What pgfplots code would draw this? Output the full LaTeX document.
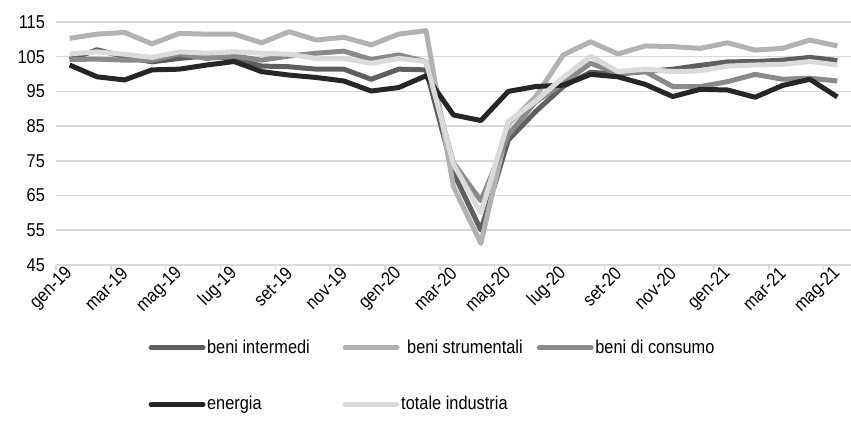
\documentclass[border=0pt]{standalone}
\usepackage{fontspec}
\setmainfont{Liberation Sans}[FakeStretch=0.88]
\usepackage{pgfplots}
\pgfplotsset{compat=1.18}
\definecolor{cint}{HTML}{5F5F5F}
\definecolor{cstr}{HTML}{B2B2B2}
\definecolor{ccon}{HTML}{8A8A8A}
\definecolor{cene}{HTML}{262626}
\definecolor{ctot}{HTML}{DADADA}
\definecolor{gridgrey}{HTML}{D9D9D9}
\pgfplotstableread{
i int str con ene tot
0 104.2 110.3 104.2 102.6 105.8
1 107.0 111.5 104.3 99.2 106.4
2 105.0 112.0 104.0 98.3 105.7
3 103.5 108.7 104.0 101.2 104.8
4 104.5 111.7 105.8 101.4 106.4
5 105.2 111.5 104.5 102.6 106.0
6 104.5 111.5 105.2 103.6 106.4
7 102.3 109.0 104.0 100.7 106.0
8 102.1 112.2 105.2 99.7 105.7
9 101.4 109.8 106.0 99.0 104.5
10 101.4 110.6 106.6 98.0 104.5
11 98.5 108.4 104.2 95.1 103.1
12 101.4 111.5 105.5 96.1 104.5
13 101.2 112.5 103.6 99.5 103.6
14 71.5 67.5 74.3 88.2 74.0
15 55.0 51.2 63.5 86.6 60.0
16 81.0 85.5 82.5 95.0 86.3
17 89.2 93.5 92.0 96.4 92.2
18 96.4 105.5 97.3 96.8 99.0
19 100.5 109.3 103.1 99.9 105.1
20 100.0 105.8 100.2 99.2 100.7
21 100.7 108.1 100.7 97.0 101.4
22 101.4 107.9 96.4 93.5 100.7
23 102.5 107.4 96.4 95.6 100.9
24 103.5 109.0 97.8 95.4 102.3
25 103.6 106.9 99.9 93.3 102.6
26 104.0 107.4 98.5 96.7 102.8
27 104.8 109.8 98.8 98.5 103.6
28 103.9 108.1 98.0 93.4 102.6
}\data
\begin{document}
\begin{tikzpicture}
\useasboundingbox (-28pt,-79.5pt) rectangle (397.75pt,132.5pt);
\begin{axis}[
  at={(0,0)}, anchor=south west,
  scale only axis, width=397.75pt, height=121.5pt,
  xmin=-0.5, xmax=28.5, ymin=45, ymax=115,
  ytick={45,55,...,115},
  xtick={0,2,...,28},
  xticklabels={gen-19,mar-19,mag-19,lug-19,set-19,nov-19,gen-20,mar-20,mag-20,lug-20,set-20,nov-20,gen-21,mar-21,mag-21},
  minor xtick={-0.5,1.5,...,27.5},
  major tick length=0pt, minor tick length=2.5pt,
  tick align=outside, xtick pos=bottom, ytick pos=left,
  tick style={draw=gridgrey, line width=0.75pt},
  axis line style={draw=none},
  ymajorgrids, major grid style={draw=gridgrey, line width=0.75pt},
  /pgf/number format/assume math mode=true,
  tick label style={font=\fontsize{9.3}{10}\selectfont, text=black},
  xticklabel style={rotate=45, anchor=east, yshift=-2pt, xshift=1.5pt},
  yticklabel style={xshift=-2pt},
  every axis plot/.append style={line width=2.5pt, line join=round, no markers},
  legend columns=3,
  legend image code/.code={\draw[line width=2.5pt, line cap=round] (1pt,0pt) -- (27pt,0pt);},
  legend style={at={(0.116,-0.30)}, anchor=north west, draw=none, fill=none,
    font=\fontsize{9.3}{10}\selectfont, row sep=18.5pt, column sep=0pt, inner sep=0pt,
    nodes={inner sep=0.8pt}},
  legend cell align=left,
]
\addplot[color=cint] table[x=i,y=int]{\data};
\addlegendentry{\makebox[67pt][l]{beni intermedi}}
\addplot[color=cstr] table[x=i,y=str]{\data};
\addlegendentry{\makebox[67pt][l]{\hspace*{3pt}beni strumentali}}
\addplot[color=ccon] table[x=i,y=con]{\data};
\addlegendentry{\makebox[67pt][l]{beni di consumo}}
\addplot[color=cene] table[x=i,y=ene]{\data};
\addlegendentry{\makebox[67pt][l]{energia}}
\addplot[color=ctot] table[x=i,y=tot]{\data};
\addlegendentry{\makebox[67pt][l]{totale industria}}
\end{axis}
\end{tikzpicture}
\end{document}
